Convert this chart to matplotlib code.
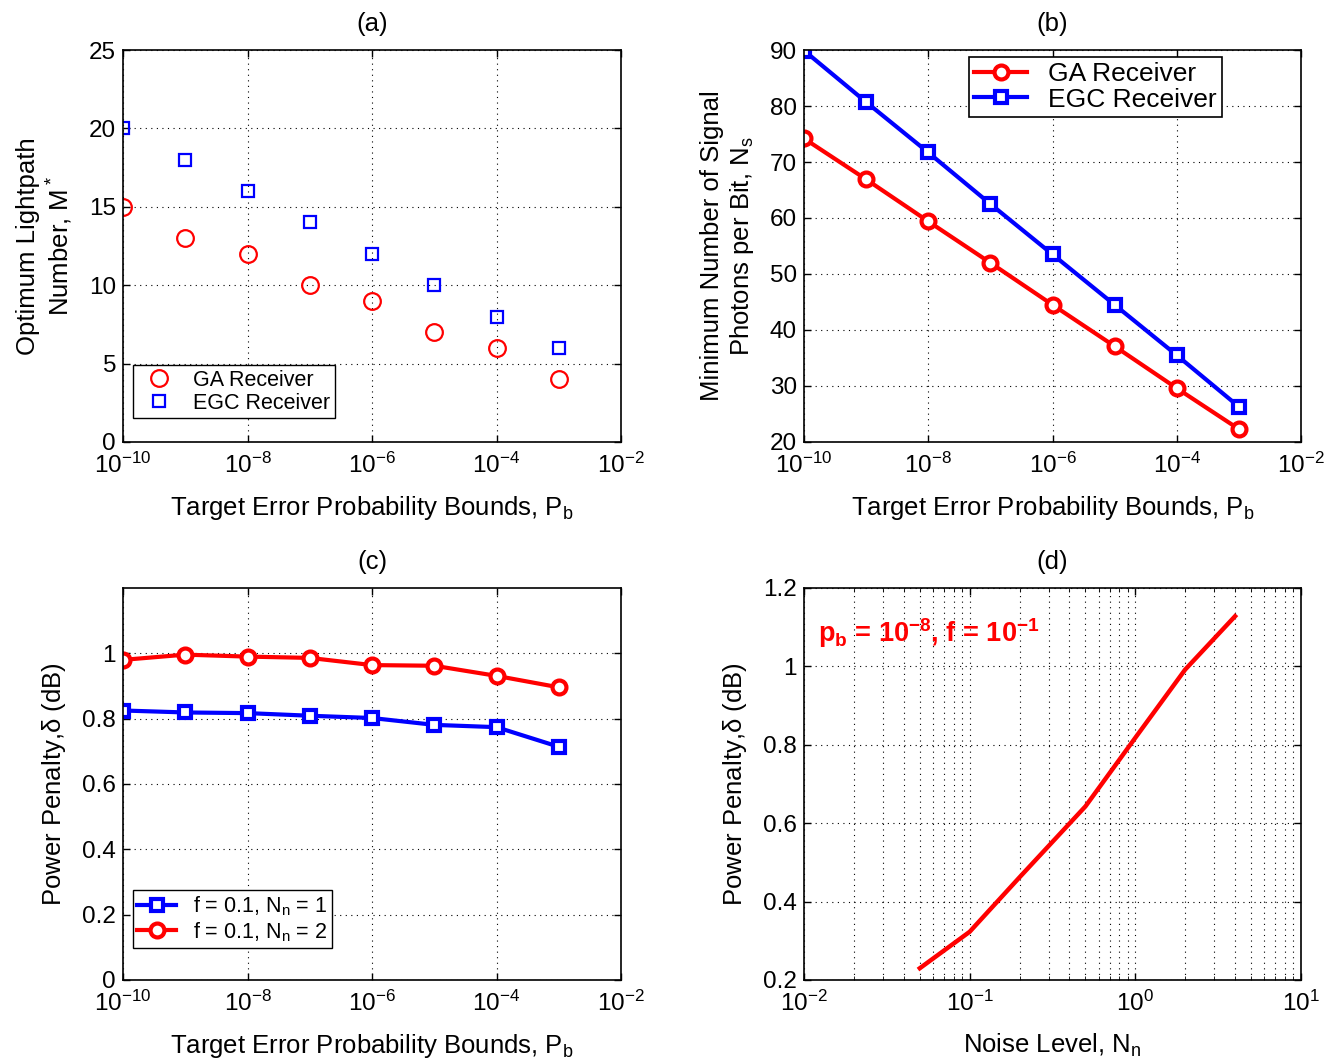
import numpy as np
import matplotlib
matplotlib.use("Agg")
import matplotlib.pyplot as plt
from matplotlib.ticker import LogLocator, NullLocator, NullFormatter

plt.rcParams['font.family'] = ['Liberation Sans', 'DejaVu Sans']
plt.rcParams['mathtext.default'] = 'regular'
plt.rcParams['font.size'] = 18

# data
pb = [1e-10, 1e-9, 1e-8, 1e-7, 1e-6, 1e-5, 1e-4, 1e-3]
m_ga = [15, 13, 12, 10, 9, 7, 6, 4]
m_egc = [20, 18, 16, 14, 12, 10, 8, 6]
ns_ga = [74.2, 66.9, 59.4, 52.0, 44.5, 37.1, 29.6, 22.3]
ns_egc = [89.9, 80.7, 71.7, 62.5, 53.5, 44.5, 35.5, 26.3]
pen_n1 = [0.825, 0.819, 0.817, 0.809, 0.802, 0.781, 0.774, 0.714]
pen_n2 = [0.980, 0.996, 0.990, 0.986, 0.964, 0.962, 0.931, 0.896]
noise = [0.05, 0.1, 0.2, 0.5, 1, 2, 4]
pen_noise = [0.230, 0.323, 0.462, 0.643, 0.818, 0.992, 1.128]

fig = plt.figure(figsize=(13.33, 10.64), dpi=100)
W, H = 1333, 1064
def box(l, t, r, b):
    return [l / W, 1 - b / H, (r - l) / W, (b - t) / H]

ax_a = fig.add_axes(box(123, 50, 621, 442))
ax_b = fig.add_axes(box(804, 50, 1301, 442))
ax_c = fig.add_axes(box(123, 588, 621, 980))
ax_d = fig.add_axes(box(804, 588, 1301, 980))

TICK = 17.5
LAB = 18.5

def style(ax):
    ax.tick_params(direction='in', top=True, right=True, length=5, width=1, labelsize=TICK)
    ax.tick_params(axis='x', pad=8)
    ax.tick_params(axis='y', pad=5)
    ax.tick_params(which='minor', direction='in', top=True, right=True, length=3)
    for s in ax.spines.values():
        s.set_linewidth(1.2)
    ax.grid(True, which='major', linestyle=(0, (1, 4)), color='k', linewidth=0.8)

def pb_axis(ax):
    ax.set_xscale('log')
    ax.set_xlim(1e-10, 1e-2)
    ax.set_xticks([1e-10, 1e-8, 1e-6, 1e-4, 1e-2])
    ax.xaxis.set_minor_locator(NullLocator())
    ax.set_xlabel('Target Error Probability Bounds, P$_b$', fontsize=LAB, labelpad=11)

# (a)
ax_a.plot(pb, m_ga, 'o', color='red', mfc='none', ms=12, mew=1.6, label='GA Receiver')
ax_a.plot(pb, m_egc, 's', color='blue', mfc='none', ms=8, mew=1.6, label='EGC Receiver')
pb_axis(ax_a)
ax_a.set_ylim(0, 25)
ax_a.set_yticks(range(0, 26, 5))
ax_a.set_ylabel('Optimum Lightpath\nNumber, M$^*$', fontsize=LAB, labelpad=10)
ax_a.set_title('(a)', fontsize=LAB, pad=14)
style(ax_a)
leg = ax_a.legend(loc='lower left', bbox_to_anchor=(0.02, 0.061), borderaxespad=0, fontsize=15.5,
                  fancybox=False, edgecolor='k', framealpha=1, handletextpad=0.6, borderpad=0.2,
                  labelspacing=0.1)
leg.get_frame().set_linewidth(1)

# (b)
ax_b.plot(pb, ns_ga, '-o', color='red', lw=3, mfc='white', ms=10, mew=3, label='GA Receiver')
ax_b.plot(pb, ns_egc, '-s', color='blue', lw=3, mfc='white', ms=8, mew=3, label='EGC Receiver')
pb_axis(ax_b)
ax_b.set_ylim(20, 90)
ax_b.set_yticks(range(20, 91, 10))
ax_b.set_ylabel('Minimum Number of Signal\nPhotons per Bit, N$_s$', fontsize=LAB, labelpad=10)
ax_b.set_title('(b)', fontsize=LAB, pad=14)
style(ax_b)
leg = ax_b.legend(loc='upper right', bbox_to_anchor=(0.841, 0.982), borderaxespad=0, fontsize=19,
                  fancybox=False, edgecolor='k', framealpha=1, handlelength=2.0, borderpad=0.2,
                  labelspacing=0.05)
leg.get_frame().set_linewidth(1.2)

# (c)
ax_c.plot(pb, pen_n1, '-s', color='blue', lw=3, mfc='white', ms=8, mew=3, label='f = 0.1, N$_n$ = 1')
ax_c.plot(pb, pen_n2, '-o', color='red', lw=3, mfc='white', ms=10, mew=3, label='f = 0.1, N$_n$ = 2')
pb_axis(ax_c)
ax_c.set_ylim(0, 1.2)
ax_c.set_yticks([0, 0.2, 0.4, 0.6, 0.8, 1])
ax_c.set_yticklabels(['0', '0.2', '0.4', '0.6', '0.8', '1'])
ax_c.set_ylabel('Power Penalty,$\\delta$ (dB)', fontsize=LAB, labelpad=10)
ax_c.set_title('(c)', fontsize=LAB, pad=14)
style(ax_c)
leg = ax_c.legend(loc='lower left', bbox_to_anchor=(0.02, 0.082), borderaxespad=0, fontsize=15.5,
                  fancybox=False, edgecolor='k', framealpha=1, handlelength=1.8, borderpad=0.2,
                  labelspacing=0.1)
leg.get_frame().set_linewidth(1)

# (d)
ax_d.plot(noise, pen_noise, '-', color='red', lw=3.2)
ax_d.set_xscale('log')
ax_d.set_xlim(1e-2, 1e1)
ax_d.set_xticks([1e-2, 1e-1, 1e0, 1e1])
ax_d.xaxis.set_minor_locator(LogLocator(base=10, subs=np.arange(2, 10)))
ax_d.xaxis.set_minor_formatter(NullFormatter())
ax_d.set_ylim(0.2, 1.2)
ax_d.set_yticks([0.2, 0.4, 0.6, 0.8, 1.0, 1.2])
ax_d.set_yticklabels(['0.2', '0.4', '0.6', '0.8', '1', '1.2'])
ax_d.set_xlabel('Noise Level, N$_n$', fontsize=LAB, labelpad=11)
ax_d.set_ylabel('Power Penalty,$\\delta$ (dB)', fontsize=LAB, labelpad=10)
ax_d.set_title('(d)', fontsize=LAB, pad=14)
style(ax_d)
ax_d.grid(True, which='minor', axis='x', linestyle=(0, (1, 4)), color='k', linewidth=0.8)
ax_d.text(0.0122, 1.085, 'p$_b$ = 10$^{-8}$, f = 10$^{-1}$', color='red', fontsize=19.5,
          fontweight='bold', va='center')

fig.savefig('out.png', dpi=100)
